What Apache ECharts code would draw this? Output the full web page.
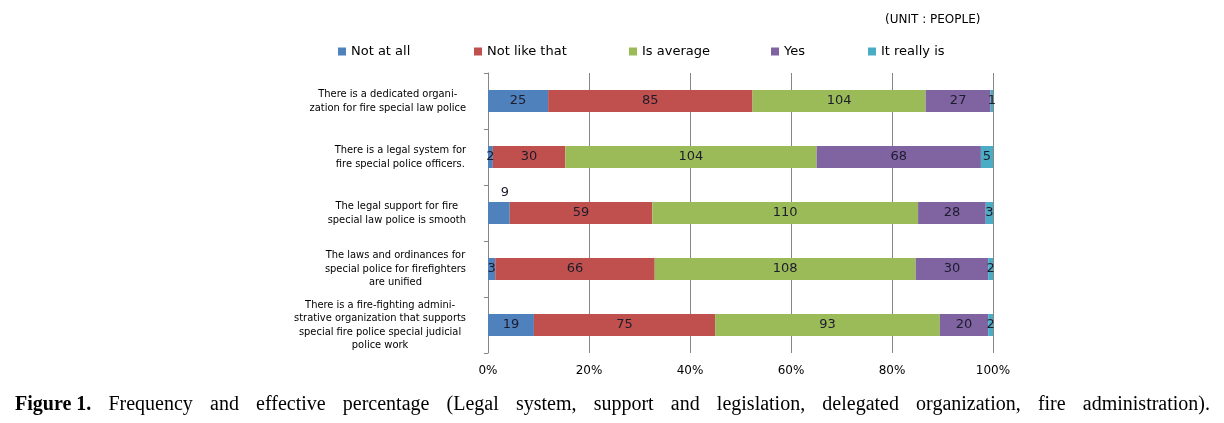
<!DOCTYPE html>
<html><head><meta charset="utf-8">
<script src="https://cdn.jsdelivr.net/npm/echarts@6/dist/echarts.min.js"></script>
<style>html,body{margin:0;padding:0;background:#fff}#c{width:1224px;height:423px}</style>
</head><body><div id="c"></div>
<script>
// ---- data ----
const categories = [
  'There is a dedicated organi-\nzation for fire special law police',
  'There is a legal system for\nfire special police officers.',
  'The legal support for fire\nspecial law police is smooth',
  'The laws and ordinances for\nspecial police for firefighters\nare unified',
  'There is a fire-fighting admini-\nstrative organization that supports\nspecial fire police special judicial\npolice work'
];
const seriesNames = ['Not at all', 'Not like that', 'Is average', 'Yes', 'It really is'];
const notAtAll    = [25, 2, 9, 3, 19];
const notLikeThat = [85, 30, 59, 66, 75];
const isAverage   = [72, 104, 110, 108, 93];   // segment lengths as drawn
const yes         = [27, 68, 28, 30, 20];
const reallyIs    = [1, 5, 3, 2, 2];
const isAverageLabels = [104, 104, 110, 108, 93]; // numbers printed on the bars
const xTicks = [0, 20, 40, 60, 80, 100];
const unitText = '(UNIT : PEOPLE)';
const captionBold = 'Figure 1.';
const captionText = 'Frequency and effective percentage (Legal system, support and legislation, delegated organization, fire administration).';

// ---- build ----
const colors = ['#4F81BD', '#C0504D', '#9BBB59', '#8064A2', '#4BACC6'];
const drawn = [notAtAll, notLikeThat, isAverage, yes, reallyIs];
const printed = [notAtAll, notLikeThat, isAverageLabels, yes, reallyIs];
const totals = categories.map((_, i) => drawn.reduce((s, arr) => s + arr[i], 0));

const series = drawn.map((arr, si) => ({
  name: seriesNames[si],
  type: 'bar',
  stack: 'total',
  barWidth: 22,
  itemStyle: { color: colors[si] },
  label: {
    show: true, position: 'inside', fontSize: 13,
    fontFamily: 'DejaVu Sans', color: '#1c1c2c',
    formatter: p => String(printed[si][p.dataIndex])
  },
  data: arr.map((v, i) => {
    const item = { value: v / totals[i] * 100 };
    if (si === 0 && i === 2) item.label = { position: 'top', offset: [6, 2] };
    return item;
  })
}));

const legendLefts = [338, 474, 629, 771, 868];
const legends = seriesNames.map((n, i) => ({
  data: [n], left: legendLefts[i], top: 45, padding: 0,
  itemWidth: 8, itemHeight: 8, icon: 'rect',
  textStyle: { fontSize: 13, fontFamily: 'DejaVu Sans', color: '#000' },
  selectedMode: false
}));

// justify caption
const FS = 20;
const words = captionText.split(' ');
const cv = document.createElement('canvas').getContext('2d');
cv.font = 'bold ' + FS + 'px "Liberation Serif"';
let tw = cv.measureText(captionBold).width;
cv.font = 'normal ' + FS + 'px "Liberation Serif"';
words.forEach(w => tw += cv.measureText(w).width);
const gap = (1195 - tw) / words.length;
let capText = '{b|' + captionBold + '}';
words.forEach(w => { capText += '{s| }{r|' + w + '}'; });

const chart = echarts.init(document.getElementById('c'));
chart.setOption({
  animation: false,
  backgroundColor: '#fff',
  title: [
    { text: unitText, left: 885, top: 14, padding: 0,
      textStyle: { fontSize: 12, fontWeight: 'normal', fontFamily: 'DejaVu Sans', color: '#000' } },
    { text: capText, left: 15, top: 395, padding: 0,
      textStyle: { fontWeight: 'normal', fontSize: FS, fontFamily: 'Liberation Serif', rich: {
        b: { fontFamily: 'Liberation Serif', fontWeight: 'bold', fontSize: FS, color: '#000' },
        r: { fontFamily: 'Liberation Serif', fontWeight: 'normal', fontSize: FS, color: '#000' },
        s: { width: gap, fontSize: FS, fontWeight: 'normal', fontFamily: 'Liberation Serif' }
      } } }
  ],
  legend: legends,
  grid: { left: 488, right: 231, top: 73, bottom: 70, containLabel: false },
  xAxis: {
    type: 'value', min: xTicks[0], max: xTicks[xTicks.length - 1], interval: xTicks[1] - xTicks[0],
    axisLine: { show: false }, axisTick: { show: false },
    splitLine: { lineStyle: { color: '#868686', width: 1 } },
    axisLabel: { formatter: '{value}%', fontSize: 12, fontFamily: 'DejaVu Sans', color: '#000', margin: 12 }
  },
  yAxis: {
    type: 'category', inverse: true, data: categories,
    axisLine: { show: true, lineStyle: { color: '#868686' } },
    axisTick: { show: true, length: 4, lineStyle: { color: '#868686' } },
    axisLabel: {
      margin: 22,
      formatter: v => v.split('\n').map(l => '{c|' + l + '}').join('\n'),
      rich: { c: { align: 'center', fontSize: 11, lineHeight: 13.5, fontFamily: '"DejaVu Sans Condensed", "DejaVu Sans"', color: '#000' } }
    }
  },
  series: series
});
</script></body></html>
